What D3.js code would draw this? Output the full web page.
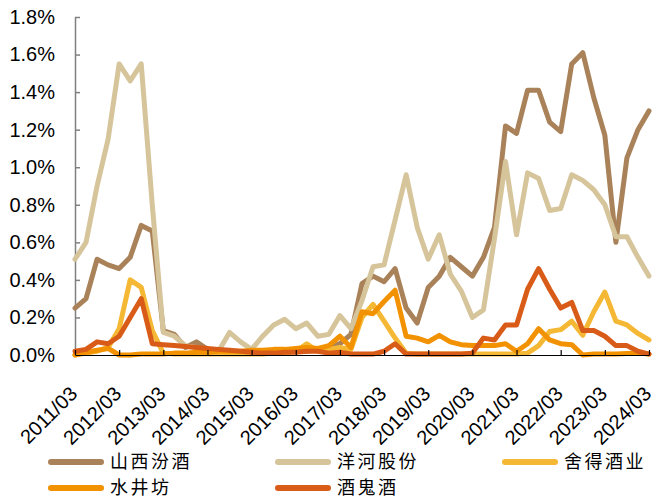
<!DOCTYPE html>
<html>
<head>
<meta charset="utf-8">
<script src="https://cdn.jsdelivr.net/npm/d3@7"></script>
<style>
  html, body { margin: 0; padding: 0; background: #fff; }
  svg { display: block; }
</style>
</head>
<body>
<svg id="chart" width="654" height="500"></svg>
<script>
// Quarterly periods
const categories = [
  "2011/03","2011/06","2011/09","2011/12",
  "2012/03","2012/06","2012/09","2012/12",
  "2013/03","2013/06","2013/09","2013/12",
  "2014/03","2014/06","2014/09","2014/12",
  "2015/03","2015/06","2015/09","2015/12",
  "2016/03","2016/06","2016/09","2016/12",
  "2017/03","2017/06","2017/09","2017/12",
  "2018/03","2018/06","2018/09","2018/12",
  "2019/03","2019/06","2019/09","2019/12",
  "2020/03","2020/06","2020/09","2020/12",
  "2021/03","2021/06","2021/09","2021/12",
  "2022/03","2022/06","2022/09","2022/12",
  "2023/03","2023/06","2023/09","2023/12",
  "2024/03"
];

// Labelled ticks on the category axis
const tickLabels = [
  "2011/03","2012/03","2013/03","2014/03","2015/03","2016/03","2017/03",
  "2018/03","2019/03","2020/03","2021/03","2022/03","2023/03","2024/03"
];

// Value axis ticks (%)
const yTicks = [0, 0.2, 0.4, 0.6, 0.8, 1.0, 1.2, 1.4, 1.6, 1.8];

// Series values (%)
const fenjiu = [
  0.25, 0.30, 0.51, 0.48, 0.46, 0.52, 0.69, 0.66,
  0.13, 0.11, 0.04, 0.07, 0.03, 0.02, 0.02, 0.01,
  0.02, 0.01, 0.01, 0.02, 0.02, 0.02, 0.03, 0.04,
  0.06, 0.11, 0.38, 0.42, 0.39, 0.46, 0.25, 0.17,
  0.36, 0.42, 0.52, 0.47, 0.42, 0.52, 0.68, 1.22,
  1.18, 1.41, 1.41, 1.24, 1.19, 1.55, 1.61, 1.37,
  1.17, 0.60, 1.05, 1.20, 1.30
];
const yanghe = [
  0.51, 0.60, 0.90, 1.15, 1.55, 1.46, 1.55, 0.80,
  0.12, 0.10, 0.05, 0.04, 0.02, 0.02, 0.12, 0.07,
  0.03, 0.10, 0.16, 0.19, 0.14, 0.17, 0.10, 0.11,
  0.21, 0.14, 0.29, 0.47, 0.48, 0.72, 0.96, 0.68,
  0.51, 0.64, 0.43, 0.34, 0.20, 0.24, 0.62, 1.03,
  0.64, 0.97, 0.94, 0.77, 0.78, 0.96, 0.93, 0.88,
  0.80, 0.63, 0.63, 0.52, 0.42
];
const shede = [
  0.00, 0.01, 0.02, 0.04, 0.14, 0.40, 0.36, 0.13,
  0.01, 0.005, 0.005, 0.005, 0.005, 0.005, 0.005, 0.005,
  0.005, 0.005, 0.01, 0.01, 0.02, 0.06, 0.02, 0.03,
  0.04, 0.03, 0.20, 0.27, 0.18, 0.09, 0.01, 0.005,
  0.005, 0.005, 0.005, 0.005, 0.005, 0.005, 0.005, 0.005,
  0.005, 0.01, 0.05, 0.125, 0.135, 0.18, 0.105, 0.23,
  0.335, 0.18, 0.16, 0.115, 0.08
];
const shuijingfang = [
  0.00, 0.015, 0.025, 0.035, 0.00, 0.00, 0.005, 0.005,
  0.005, 0.01, 0.01, 0.015, 0.015, 0.02, 0.02, 0.02,
  0.025, 0.025, 0.03, 0.03, 0.035, 0.04, 0.035, 0.05,
  0.10, 0.04, 0.23, 0.22, 0.285, 0.345, 0.10, 0.09,
  0.07, 0.105, 0.07, 0.055, 0.05, 0.05, 0.05, 0.06,
  0.02, 0.06, 0.14, 0.08, 0.06, 0.055, 0.00, 0.005,
  0.005, 0.005, 0.008, 0.01, 0.005
];
const jiuguijiu = [
  0.02, 0.03, 0.07, 0.06, 0.10, 0.20, 0.30, 0.06,
  0.055, 0.05, 0.045, 0.04, 0.035, 0.03, 0.025, 0.02,
  0.015, 0.01, 0.01, 0.015, 0.015, 0.02, 0.02, 0.01,
  0.015, 0.005, 0.005, 0.005, 0.02, 0.06, 0.005, 0.005,
  0.005, 0.005, 0.005, 0.005, 0.01, 0.09, 0.08, 0.16,
  0.16, 0.35, 0.46, 0.35, 0.25, 0.28, 0.13, 0.13,
  0.10, 0.05, 0.05, 0.02, 0.005
];

const seriesNames = ["山西汾酒", "洋河股份", "舍得酒业", "水井坊", "酒鬼酒"];
const seriesValues = [fenjiu, yanghe, shede, shuijingfang, jiuguijiu];
const seriesColors = ["#A9825A", "#D6C49B", "#F5B834", "#F39200", "#D95B18"];

const svg = d3.select("#chart");
const margin = { left: 75, right: 5, top: 17, bottom: 145 };
const W = 654, H = 500;

const x = d3.scalePoint()
  .domain(categories)
  .range([margin.left, W - margin.right]);

const y = d3.scaleLinear()
  .domain([0, 1.8])
  .range([H - margin.bottom, margin.top]);

const fontLatin = "Arial, 'Liberation Sans', sans-serif";

// Value axis
const yAxis = d3.axisLeft(y)
  .tickValues(yTicks)
  .tickSizeInner(-5)
  .tickSizeOuter(0)
  .tickPadding(20)
  .tickFormat(d => d.toFixed(1) + "%");

const gy = svg.append("g")
  .attr("transform", `translate(${margin.left},0)`)
  .call(yAxis);
gy.select(".domain").attr("stroke", "#808080").attr("stroke-width", 1.5);
gy.selectAll(".tick line").attr("stroke", "#808080").attr("stroke-width", 1.5);
gy.selectAll(".tick text")
  .attr("font-family", fontLatin)
  .attr("font-size", 20)
  .attr("fill", "#000");

// Series lines
const line = d3.line()
  .x((d, i) => x(categories[i]))
  .y(d => y(d));

svg.append("g")
  .selectAll("path")
  .data(seriesValues)
  .join("path")
  .attr("d", d => line(d))
  .attr("fill", "none")
  .attr("stroke", (d, i) => seriesColors[i])
  .attr("stroke-width", 5)
  .attr("stroke-linejoin", "round")
  .attr("stroke-linecap", "round");

// Category axis
const xAxis = d3.axisBottom(x)
  .tickValues(tickLabels)
  .tickSizeInner(-5)
  .tickSizeOuter(0)
  .tickFormat(d => d);

const gx = svg.append("g")
  .attr("transform", `translate(0,${y(0)})`)
  .call(xAxis);
gx.select(".domain").attr("stroke", "#000").attr("stroke-width", 1.2);
gx.selectAll(".tick line").attr("stroke", "#000").attr("stroke-width", 1.2);
gx.selectAll(".tick text")
  .attr("font-family", fontLatin)
  .attr("font-size", 20)
  .attr("fill", "#000")
  .attr("text-anchor", "end")
  .attr("x", 0)
  .attr("y", 0)
  .attr("dy", 0)
  .attr("transform", "translate(3,40) rotate(-45)");

// Legend
const legendCols = [48, 275, 502];
const legendRows = [462, 488];
const legend = svg.append("g");
seriesNames.forEach((name, i) => {
  const cx = legendCols[i % 3];
  const cy = legendRows[Math.floor(i / 3)];
  const g = legend.append("g").attr("transform", `translate(${cx},${cy})`);
  g.append("line")
    .attr("x1", 3).attr("x2", 53)
    .attr("y1", 0).attr("y2", 0)
    .attr("stroke", seriesColors[i])
    .attr("stroke-width", 6)
    .attr("stroke-linecap", "round");
  g.append("text")
    .attr("x", 62)
    .attr("y", 0)
    .attr("dy", "0.36em")
    .attr("font-family", "'Noto Sans CJK SC', sans-serif")
    .attr("font-size", 18)
    .attr("letter-spacing", 2.5)
    .attr("fill", "#000")
    .text(name);
});
</script>
</body>
</html>
